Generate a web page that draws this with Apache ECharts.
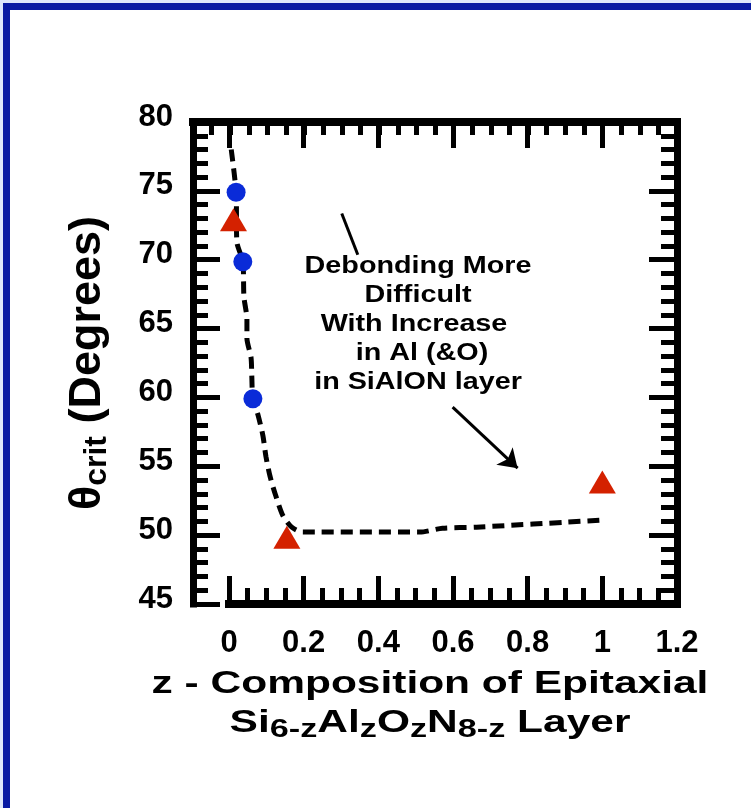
<!DOCTYPE html>
<html><head><meta charset="utf-8">
<script src="https://cdn.jsdelivr.net/npm/echarts@6/dist/echarts.min.js"></script>
<style>html,body{margin:0;padding:0;background:#fff}#chart{width:751px;height:808px}</style>
</head><body><div id="chart"></div>
<script>
// ---- data ----
const xTicks = [0, 0.2, 0.4, 0.6, 0.8, 1, 1.2];
const yTicks = [45, 50, 55, 60, 65, 70, 75, 80];
// dashed guide curve
const curveZ =     [0.006, 0.019, 0.021, 0.037, 0.040, 0.048, 0.048, 0.059, 0.061, 0.064, 0.078, 0.091, 0.099, 0.110, 0.126, 0.144, 0.168, 0.198, 0.511, 0.572, 0.663, 0.992];
const curveTheta = [78.0,  74.9,  71.3,  69.85, 67.3,  65.7,  64.3,  62.9,  61.6,  59.9,  58.7,  57.2,  55.7,  54.26, 52.8,  51.44, 50.58, 50.22, 50.22, 50.5,  50.58, 51.08];
// blue circles
const circleZ =     [0.019, 0.037, 0.064];
const circleTheta = [74.9,  69.85, 59.9];
// red triangles
const triZ =     [0.012, 0.155, 1.0];
const triTheta = [72.9,  49.85, 53.85];
// annotation strokes (data space)
const tailSegment = [[0.302, 73.36], [0.345, 70.36]];
const arrowSegment = [[0.599, 59.29], [0.773, 54.86]];
const annotationLines = ['Debonding More', 'Difficult', 'With Increase ', ' in Al (&O)', 'in SiAlON layer'];

const F = "'Liberation Sans', Arial, Helvetica, sans-serif";
const K = '#000';
const xMin = xTicks[0], xMax = xTicks[xTicks.length - 1], xStep = xTicks[1] - xTicks[0];
const yMin = yTicks[0], yMax = yTicks[yTicks.length - 1], yStep = yTicks[1] - yTicks[0];

const chart = echarts.init(document.getElementById('chart'), null, {renderer: 'canvas'});

const lineSty = (w) => ({color: K, width: w, cap: 'square'});
const tickSty = {color: K, width: 5};

const option = {
  animation: false,
  backgroundColor: '#fff',
  grid: [
    {left: 229, right: 74, top: 122, bottom: 204, outerBoundsMode: 'none'},
    {left: 193, right: 74, top: 122, bottom: 204, outerBoundsMode: 'none'}
  ],
  xAxis: [
    { // main bottom axis
      gridIndex: 0, type: 'value', position: 'bottom', min: xMin, max: xMax, interval: xStep,
      axisLine: {show: true, onZero: false, lineStyle: lineSty(8)},
      axisTick: {show: true, inside: true, length: 28, lineStyle: tickSty},
      minorTick: {show: true, splitNumber: 4, length: 16, lineStyle: tickSty},
      splitLine: {show: false}, minorSplitLine: {show: false},
      axisLabel: {color: K, fontSize: 31, fontWeight: 'bold', fontFamily: F, margin: 24}
    },
    { // top major ticks
      gridIndex: 0, type: 'value', position: 'top', min: xMin, max: xMax, interval: xStep,
      axisLine: {show: false, onZero: false},
      axisTick: {show: true, inside: true, length: 26, lineStyle: tickSty},
      splitLine: {show: false}, axisLabel: {show: false}
    },
    { // top frame line with fine ticks, extends to left frame
      gridIndex: 1, type: 'value', position: 'top', min: -0.1, max: xMax, interval: 0.05,
      axisLine: {show: true, onZero: false, lineStyle: lineSty(8)},
      axisTick: {show: true, inside: true, length: 13, lineStyle: tickSty},
      splitLine: {show: false}, axisLabel: {show: false}
    }
  ],
  yAxis: [
    {
      gridIndex: 0, type: 'value', position: 'left', offset: 36, min: yMin, max: yMax, interval: yStep,
      axisLine: {show: true, onZero: false, lineStyle: lineSty(7)},
      axisTick: {show: true, inside: true, length: 27, lineStyle: tickSty},
      minorTick: {show: true, splitNumber: 5, length: 15, lineStyle: tickSty},
      splitLine: {show: false}, minorSplitLine: {show: false},
      axisLabel: {
        color: K, margin: 20, formatter: '{a|{value}}',
        rich: {a: {fontSize: 31, fontWeight: 'bold', fontFamily: F, color: K, lineHeight: 31, padding: [0, 0, 10, 0]}}
      },
      name: '{t|θ}{s|crit}{t| (Degrees)}',
      nameLocation: 'middle', nameRotate: 90, nameGap: 80,
      nameTextStyle: {
        color: K,
        rich: {
          t: {fontSize: 45, fontWeight: 'bold', fontFamily: F, color: K, lineHeight: 50},
          s: {fontSize: 32, fontWeight: 'bold', fontFamily: F, color: K, lineHeight: 36, verticalAlign: 'bottom'}
        }
      }
    },
    {
      gridIndex: 0, type: 'value', position: 'right', min: yMin, max: yMax, interval: yStep,
      axisLine: {show: true, onZero: false, lineStyle: lineSty(7)},
      axisTick: {show: true, inside: true, length: 28, lineStyle: tickSty},
      minorTick: {show: true, splitNumber: 5, length: 16, lineStyle: tickSty},
      splitLine: {show: false}, minorSplitLine: {show: false},
      axisLabel: {show: false}
    },
    {gridIndex: 1, type: 'value', min: yMin, max: yMax, show: false}
  ],
  series: [
    {
      type: 'line', xAxisIndex: 0, yAxisIndex: 0, z: 3,
      data: curveZ.map((z, i) => [z, curveTheta[i]]),
      showSymbol: false, symbol: 'none', smooth: 0.25,
      lineStyle: {color: K, width: 5, type: [12, 7]}
    },
    {
      type: 'lines', coordinateSystem: 'cartesian2d', xAxisIndex: 0, yAxisIndex: 0, z: 3,
      data: [{coords: tailSegment}],
      symbol: ['none', 'none'],
      lineStyle: {color: K, width: 3, opacity: 1}
    },
    {
      type: 'lines', coordinateSystem: 'cartesian2d', xAxisIndex: 0, yAxisIndex: 0, z: 3,
      data: [{coords: arrowSegment}],
      symbol: ['none', 'arrow'], symbolSize: 18,
      lineStyle: {color: K, width: 3, opacity: 1}
    },
    {
      type: 'scatter', xAxisIndex: 0, yAxisIndex: 0, z: 5,
      data: circleZ.map((z, i) => [z, circleTheta[i]]),
      symbol: 'circle', symbolSize: 19,
      itemStyle: {color: '#0a2bd8', opacity: 1}
    },
    {
      type: 'scatter', xAxisIndex: 0, yAxisIndex: 0, z: 6,
      data: triZ.map((z, i) => [z, triTheta[i]]),
      symbol: 'triangle', symbolSize: [27, 23],
      itemStyle: {color: '#d42100', opacity: 1}
    }
  ],
  graphic: [
    {type: 'rect', shape: {x: 0, y: 0, width: 751, height: 3}, style: {fill: '#dce6fb'}, z: 100},
    {type: 'rect', shape: {x: 0, y: 0, width: 3, height: 808}, style: {fill: '#dce6fb'}, z: 100},
    {type: 'rect', shape: {x: 3, y: 3, width: 748, height: 7}, style: {fill: '#0719a3'}, z: 100},
    {type: 'rect', shape: {x: 3, y: 3, width: 7, height: 805}, style: {fill: '#0719a3'}, z: 100},
    {
      type: 'text', x: 418, y: 325, scaleX: 1.25, z: 50,
      style: {
        text: annotationLines.join('\n'),
        fill: K, font: "bold 23px " + F, lineHeight: 29,
        align: 'center', verticalAlign: 'middle', textAlign: 'center', textVerticalAlign: 'middle'
      }
    },
    {
      type: 'text', x: 430, y: 684, scaleX: 1.37, z: 50,
      style: {
        text: 'z - Composition of Epitaxial',
        fill: K, font: "bold 31px " + F,
        align: 'center', verticalAlign: 'middle', textAlign: 'center', textVerticalAlign: 'middle'
      }
    },
    {
      type: 'text', x: 430, y: 723, scaleX: 1.37, z: 50,
      style: {
        text: '{m|Si}{s|6-z}{m|Al}{s|z}{m|O}{s|z}{m|N}{s|8-z}{m| Layer}',
        fill: K, font: "bold 31px " + F,
        align: 'center', verticalAlign: 'middle', textAlign: 'center', textVerticalAlign: 'middle',
        rich: {
          m: {fontSize: 31, fontWeight: 'bold', fontFamily: F, fill: K, color: K, lineHeight: 34},
          s: {fontSize: 25, fontWeight: 'bold', fontFamily: F, fill: K, color: K, lineHeight: 25, padding: [14, 0, 0, 0]}
        }
      }
    }
  ]
};
chart.setOption(option);
</script>
</body></html>
